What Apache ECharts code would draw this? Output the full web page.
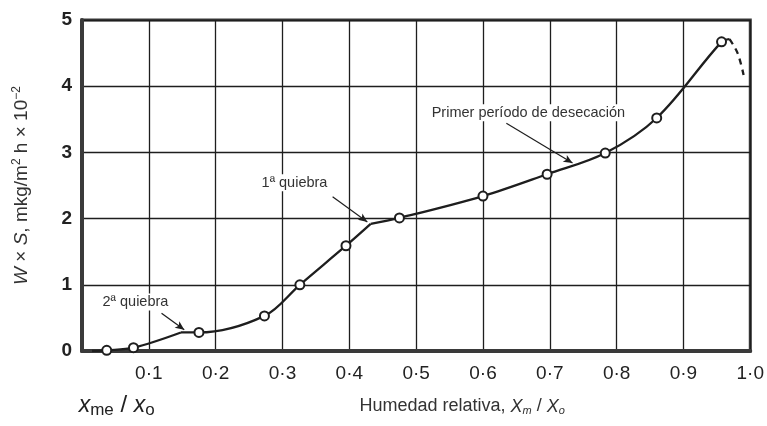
<!DOCTYPE html>
<html>
<head>
<meta charset="utf-8">
<script src="https://cdn.jsdelivr.net/npm/echarts@6/dist/echarts.min.js"></script>
<style>
  html, body { margin: 0; padding: 0; background: #fff; }
  #chart { width: 767px; height: 426px; }
</style>
</head>
<body>
<div id="chart"></div>
<script>
  // puntos medidos (circulos)
  const measuredX = [0.037, 0.077, 0.175, 0.273, 0.326, 0.395, 0.475, 0.6, 0.696, 0.783, 0.86, 0.957]
  const measuredY = [0.01, 0.05, 0.28, 0.53, 1.0, 1.59, 2.01, 2.34, 2.67, 2.99, 3.52, 4.67]

  // tramos de la curva (entre quiebras)
  const lowX = [0.015, 0.037, 0.077, 0.148]
  const lowY = [0, 0.01, 0.05, 0.28]
  const midX = [0.148, 0.175, 0.273, 0.326, 0.395, 0.432]
  const midY = [0.28, 0.28, 0.53, 1.0, 1.59, 1.92]
  const highX = [0.432, 0.475, 0.6, 0.696, 0.783, 0.86, 0.957, 0.969]
  const highY = [1.92, 2.01, 2.34, 2.67, 2.99, 3.52, 4.67, 4.71]
  const tailX = [0.969, 0.981, 0.99]
  const tailY = [4.71, 4.5, 4.17]

  const yTicks = [0, 1, 2, 3, 4, 5]

  const zip = (xs, ys) => xs.map((x, i) => [x, ys[i]])

  const chart = echarts.init(document.getElementById('chart'))
  const ink = '#1e1e1e'
  const font = '"Liberation Sans", Arial, sans-serif'

  const curve = (data, dashed) => ({
    type: 'line',
    smooth: 0.35,
    symbol: 'none',
    silent: true,
    lineStyle: { color: ink, width: 2.3, type: dashed ? [6, 5] : 'solid' },
    data: data,
    z: 3
  })

  chart.setOption({
    backgroundColor: '#fff',
    animation: false,
    grid: { left: 82, right: 11, top: 20, bottom: 75, show: true, borderColor: '#3a3a3a', borderWidth: 3 },
    xAxis: {
      type: 'value',
      min: 0,
      max: 1,
      interval: 0.1,
      name: 'Humedad relativa, {i|X}{s|m}{n| / }{i|X}{s|o}',
      nameLocation: 'middle',
      nameGap: 46,
      nameTextStyle: {
        fontFamily: font, fontSize: 18, color: '#333', padding: [0, 0, 0, 92],
        rich: {
          i: { fontFamily: font, fontSize: 18, fontStyle: 'italic', color: '#333' },
          s: { fontFamily: font, fontSize: 11, fontStyle: 'italic', color: '#333', padding: [8, 0, 0, 0] },
          n: { fontFamily: font, fontSize: 18, color: '#333' }
        }
      },
      axisLine: { show: true, lineStyle: { color: '#3a3a3a', width: 4 } },
      axisTick: { show: false },
      axisLabel: {
        margin: 13,
        fontFamily: font,
        fontSize: 19,
        color: '#222',
        formatter: v => {
          const r = Math.round(v * 10) / 10
          if (r === 0) return ''
          return r.toFixed(1).replace('.', '·')
        }
      },
      splitLine: { show: true, lineStyle: { color: ink, width: 1.3 } }
    },
    yAxis: {
      type: 'value',
      min: yTicks[0],
      max: yTicks[yTicks.length - 1],
      interval: 1,
      name: '{i|W} × {i|S}, mkg/m{sup|2} h × 10{sup|−2}',
      nameLocation: 'middle',
      nameGap: 50,
      nameTextStyle: {
        fontFamily: font, fontSize: 19, color: '#333',
        rich: {
          i: { fontFamily: font, fontSize: 19, fontStyle: 'italic', color: '#333' },
          sup: { fontFamily: font, fontSize: 12, color: '#333', padding: [0, 0, 9, 0] }
        }
      },
      axisLine: { show: true, lineStyle: { color: '#3a3a3a', width: 4 } },
      axisTick: { show: false },
      axisLabel: { margin: 10, fontFamily: font, fontSize: 19, fontWeight: 'bold', color: '#222' },
      splitLine: { show: true, lineStyle: { color: ink, width: 1.3 } }
    },
    series: [
      curve(zip(lowX, lowY)),
      curve(zip(midX, midY)),
      curve(zip(highX, highY)),
      curve(zip(tailX, tailY), true),
      {
        type: 'scatter',
        symbol: 'circle',
        symbolSize: 9,
        itemStyle: { color: '#fff', borderColor: ink, borderWidth: 2, opacity: 1 },
        data: zip(measuredX, measuredY),
        z: 5,
        markLine: {
          silent: true,
          symbol: ['none', 'arrow'],
          symbolSize: [6, 9],
          label: { show: false },
          lineStyle: { color: ink, width: 1.2, type: 'solid' },
          data: [
            [{ coord: [0.635, 3.44] }, { coord: [0.734, 2.84] }],
            [{ coord: [0.375, 2.33] }, { coord: [0.427, 1.95] }],
            [{ coord: [0.119, 0.57] }, { coord: [0.153, 0.32] }],
            [{ coord: [0.013, 0.12], symbol: 'none' }, { coord: [0.013, -0.17], symbol: 'none' }],
            [{ coord: [0.024, -0.32], symbol: 'none' }, { coord: [0.056, -0.63], symbol: 'none' }]
          ]
        }
      }
    ]
  })

  // anotaciones de texto
  const notes = [
    { text: 'Primer período de desecación', at: [0.668, 3.6] },
    { text: '1ª quiebra', at: [0.318, 2.54] },
    { text: '2ª quiebra', at: [0.08, 0.74] }
  ]
  const px = c => chart.convertToPixel({ gridIndex: 0 }, c)
  const xme = px([0.052, -0.82])

  chart.setOption({
    graphic: notes.map(n => {
      const p = px(n.at)
      return {
        type: 'text', x: p[0], y: p[1], z: 10,
        style: {
          text: n.text, font: '14.5px ' + font, fill: '#333',
          align: 'center', verticalAlign: 'middle',
          backgroundColor: '#fff', padding: [1, 3]
        }
      }
    }).concat([{
      type: 'text', x: xme[0], y: xme[1], z: 10,
      style: {
        text: '{i|x}{s|me}{n| / }{i|x}{s|o}',
        align: 'center', verticalAlign: 'middle',
        rich: {
          i: { font: 'italic 23px ' + font, fill: '#222' },
          s: { font: '17px ' + font, fill: '#222', padding: [11, 0, 0, 0] },
          n: { font: '24px ' + font, fill: '#222' }
        }
      }
    }])
  })
</script>
</body>
</html>
